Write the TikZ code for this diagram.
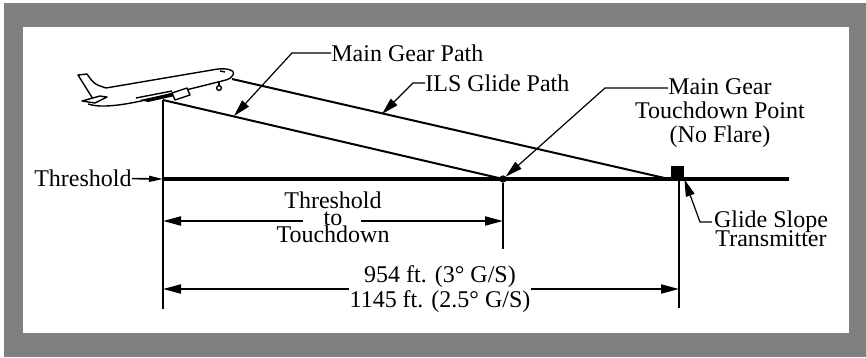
\documentclass[tikz,border=0pt]{standalone}
\usepackage{fontspec}
\setmainfont{Liberation Serif}
\usetikzlibrary{arrows.meta, positioning}
\definecolor{framegray}{RGB}{128,128,128}
\setlength{\lineskiplimit}{-20pt}

\begin{document}
\begin{tikzpicture}[x=0.5pt, y=-0.5pt,
    lbl/.style={font=\fontsize{12}{14}\selectfont, inner sep=0pt},
    leader/.style={line width=0.6pt, -{Triangle[length=8.5pt, width=4.5pt]}},
    dimline/.style={line width=1pt, -{Triangle[length=9pt, width=4.5pt]}},
    plane/.style={line width=0.7pt, line join=round}]

    \useasboundingbox (0,0) rectangle (866,358);
    \fill[framegray] (4,3) rectangle (866,357);
    \fill[white] (23,27) rectangle (849,333);

    % Aircraft
    \draw[plane, fill=white] (93,99) -- (78,75) -- (87,74) .. controls (94,84) .. (106,88)
        -- (212,70) .. controls (226,67) and (236,70) .. (233,75) .. controls (231,78) .. (226,80)
        -- (150,99) .. controls (120,106) and (100,108) .. (88,104);
    \draw[plane, fill=white] (82,101) -- (100,96) -- (107,97) -- (95,103) -- cycle;
    \fill (140,100) -- (172,93) -- (175,96) -- (148,102) -- cycle;
    \draw[plane] (136,98) -- (172,91);
    \draw[plane, fill=white] (172,93) -- (187,88) -- (190,95) -- (175,100) -- cycle;
    \draw[plane] (219,81) -- (219,86);
    \draw[plane] (219,88) circle (1.2pt);
    \draw[plane] (220,71) -- (225,72);

    % Points
    \coordinate (gear) at (163,100);
    \coordinate (nose) at (232,79);
    \coordinate (thr) at (163,179);
    \coordinate (rwy) at (789,179);
    \coordinate (thrbot) at (163,309);
    \coordinate (tdbot) at (503,249);
    \coordinate (gstop) at (679,179);
    \coordinate (gsbot) at (679,308);
    \node[circle, draw, line width=0.6pt, inner sep=0pt, minimum size=3pt] (td) at (503,179) {};
    \node[fill=black, inner sep=0pt, minimum size=6.5pt] (gsx) at (677.5,172.5) {};

    % Runway and paths
    \draw[line width=2pt] (thr) -- (rwy);
    \draw[line width=1pt] (gear) -- (thrbot);
    \draw[line width=1pt] (td) -- (tdbot);
    \draw[line width=1pt] (gstop) -- (gsbot);
    \draw[line width=1pt] (nose) -- (gsx.south west);
    \draw[line width=1pt] (gear) -- (td);

    % Labels
    \node[lbl, anchor=east] (thl) at (132,178) {Threshold};
    \draw[line width=0.8pt, -{Triangle[length=7pt, width=3pt]}] (thl) -- (thr);

    \node[lbl, anchor=west] (mgp) at (331,53) {Main Gear Path};
    \coordinate (mgpk) at (292,53);
    \coordinate (mgptip) at (234,116);
    \draw[leader] (mgp) -- (mgpk) -- (mgptip);

    \node[lbl, anchor=west] (ils) at (425,83) {ILS Glide Path};
    \coordinate (ilsk) at (413,83);
    \coordinate (ilstip) at (382,114);
    \draw[leader] (ils) -- (ilsk) -- (ilstip);

    \node[lbl, align=center, font=\fontsize{12}{12}\selectfont]
        (mgtd) at (720,113) {Main Gear\\Touchdown Point\\(No Flare)};
    \coordinate (mgtdk) at (668,88);
    \coordinate (mgtdb) at (605,88);
    \draw[leader] (mgtdk) -- (mgtdb) -- (td);

    \node[lbl, align=center, font=\fontsize{12}{9.5}\selectfont]
        (gst) at (771,229) {Glide Slope\\Transmitter};
    \coordinate (gstk) at (712,222);
    \coordinate (gstb) at (700,222);
    \draw[leader] (gstk) -- (gstb) -- (gsx.south east);

    % Dimensions
    \node[lbl, align=center, font=\fontsize{12}{8.5}\selectfont]
        (ttd) at (333,217) {Threshold\\to\\Touchdown};
    \coordinate (ttdl) at (303,221);
    \coordinate (ttdr) at (361,221);
    \draw[dimline] (ttdl) -- (thr |- ttdl);
    \draw[dimline] (ttdr) -- (td |- ttdr);

    \node[lbl, align=center, font=\fontsize{12}{12.5}\selectfont]
        (dist) at (440,289) {954 ft. (3° G/S)\\1145 ft. (2.5° G/S)};
    \draw[dimline] (dist.west) -- (thr |- dist.west);
    \draw[dimline] (dist.east) -- (gstop |- dist.east);
\end{tikzpicture}
\end{document}
